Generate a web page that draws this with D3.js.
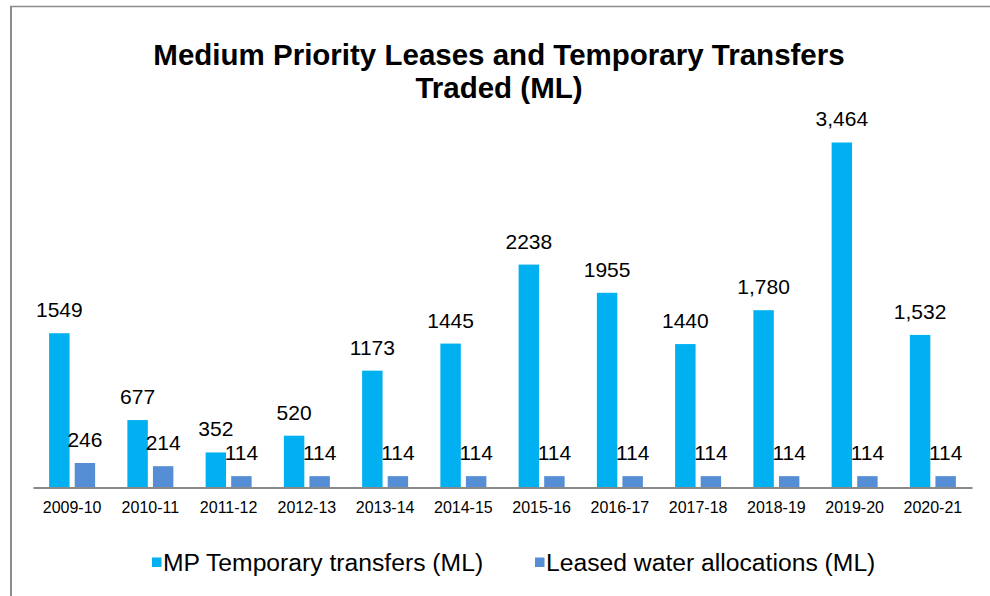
<!DOCTYPE html>
<html>
<head>
<meta charset="utf-8">
<script src="https://cdn.jsdelivr.net/npm/d3@7"></script>
<style>
  html, body { margin: 0; padding: 0; background: #fff; }
  svg { display: block; font-family: "Liberation Sans", Arial, sans-serif; }
</style>
</head>
<body>
<svg id="chart" width="990" height="596"></svg>
<script>
const categories = ["2009-10","2010-11","2011-12","2012-13","2013-14","2014-15","2015-16","2016-17","2017-18","2018-19","2019-20","2020-21"];
const mpTransfers = [1549, 677, 352, 520, 1173, 1445, 2238, 1955, 1440, 1780, 3464, 1532];
const mpLabels = ["1549","677","352","520","1173","1445","2238","1955","1440","1,780","3,464","1,532"];
const leased = [246, 214, 114, 114, 114, 114, 114, 114, 114, 114, 114, 114];
const leasedLabels = ["246","214","114","114","114","114","114","114","114","114","114","114"];
const seriesNames = ["MP Temporary transfers (ML)", "Leased water allocations (ML)"];
const colors = ["#00B0F0", "#558ED5"];
const titleLines = ["Medium Priority Leases and Temporary Transfers", "Traded (ML)"];

const svg = d3.select("#chart");

// frame
svg.append("line").attr("x1", 11).attr("x2", 11).attr("y1", 6).attr("y2", 596)
  .attr("stroke", "#8c8c8c").attr("stroke-width", 2);
svg.append("line").attr("x1", 10).attr("x2", 990).attr("y1", 6.5).attr("y2", 6.5)
  .attr("stroke", "#8c8c8c").attr("stroke-width", 1.5);

// title
svg.append("text").attr("x", 499).attr("y", 65).attr("text-anchor", "middle")
  .attr("font-size", 29.5).attr("font-weight", "bold").attr("fill", "#000")
  .selectAll("tspan").data(titleLines).join("tspan")
  .attr("x", 499).attr("dy", (d, i) => i === 0 ? 0 : 33).text(d => d);

const baseY = 487.5;
const x0 = d3.scaleBand().domain(categories).range([33, 972]).paddingInner(0).paddingOuter(0);
const x1 = d3.scaleBand().domain([0, 1]).range([0, 46]).paddingInner(0.2).paddingOuter(0);
const y = d3.scaleLinear().domain([0, 4000]).range([baseY, baseY - 398.4]);

const data = categories.map((c, i) => ({
  cat: c,
  vals: [
    { s: 0, v: mpTransfers[i], label: mpLabels[i] },
    { s: 1, v: leased[i], label: leasedLabels[i] }
  ]
}));

const groups = svg.append("g").selectAll("g").data(data).join("g")
  .attr("transform", d => `translate(${x0(d.cat) + x0.bandwidth() / 2 - 23},0)`);

groups.selectAll("rect").data(d => d.vals).join("rect")
  .attr("x", d => x1(d.s))
  .attr("width", x1.bandwidth())
  .attr("y", d => y(d.v))
  .attr("height", d => y(0) - y(d.v))
  .attr("fill", d => colors[d.s]);

groups.selectAll("text").data(d => d.vals).join("text")
  .attr("x", d => x1(d.s) + x1.bandwidth() / 2)
  .attr("y", d => y(d.v) - 16)
  .attr("text-anchor", "middle")
  .attr("font-size", 21)
  .attr("fill", "#000")
  .text(d => d.label);

// x axis
const xAxis = d3.axisBottom(x0).tickSize(0).tickSizeOuter(0).tickPadding(0);
const gx = svg.append("g").attr("transform", `translate(0,${baseY})`).call(xAxis);
gx.select(".domain").attr("stroke", "#898989").attr("stroke-width", 2);
gx.selectAll(".tick text").attr("font-size", 16).attr("font-family", "Liberation Sans, Arial, sans-serif")
  .attr("fill", "#000").attr("dy", 25);

// legend
const legendX = [152, 535];
const lg = svg.append("g").selectAll("g").data(seriesNames).join("g")
  .attr("transform", (d, i) => `translate(${legendX[i]},0)`);
lg.append("rect").attr("x", 0).attr("y", 557.5).attr("width", 9.5).attr("height", 9.5)
  .attr("fill", (d, i) => colors[i]);
lg.append("text").attr("x", 11).attr("y", 571).attr("font-size", 24.7).attr("fill", "#000")
  .text(d => d);
</script>
</body>
</html>
